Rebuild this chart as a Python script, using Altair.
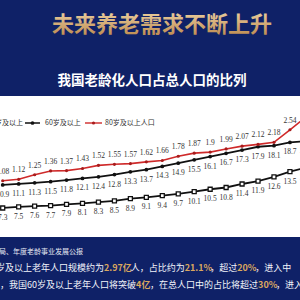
import altair as alt
import pandas as pd

# ---------------- data ----------------
years = list(range(2002, 2022))
pct_80 = [1.08, 1.12, 1.25, 1.36, 1.37, 1.43, 1.52, 1.55, 1.57, 1.62,
          1.66, 1.78, 1.87, 1.9, 1.99, 2.07, 2.12, 2.18, 2.54, 2.9]
pct_60 = [10.9, 11.1, 11.3, 11.5, 11.8, 12.1, 12.4, 12.8, 13.3, 13.7,
          14.3, 14.9, 15.5, 16.1, 16.7, 17.3, 17.9, 18.1, 18.7, 18.9]
pct_65 = [7.3, 7.5, 7.6, 7.7, 7.9, 8.1, 8.3, 8.5, 8.9, 9.1,
          9.4, 9.7, 10.1, 10.5, 10.8, 11.4, 11.9, 12.6, 13.5, 14.2]
series_names = ["65岁及以上", "60岁及以上", "80岁及以上人口"]

title_text = "未来养老需求不断上升"
subtitle_text = "我国老龄化人口占总人口的比列"
source_text = "局、年度老龄事业发展公报"
line1 = [("岁及以上老年人口规模约为", False), ("2.97亿", True), ("人，占比约为", False),
         ("21.1%", True), ("，超过", False), ("20%", True), ("，进入中", False)]
line2 = [("，我国60岁及以上老年人口将突破", False), ("4亿", True), ("，在总人口中的占比将超过", False),
         ("30%", True), ("，进入", False)]

df = pd.DataFrame({"year": years, "v80": pct_80, "v60": pct_60, "v65": pct_65})
df["l80"] = [str(v) for v in pct_80]
df["l60"] = [str(v) for v in pct_60]
df["l65"] = [str(v) for v in pct_65]

CJK = "Noto Sans CJK SC"
SERIF = "Liberation Serif"
NAVY = "#0f2167"
GOLD = "#dba75e"
one = pd.DataFrame({"a": [0]})

# ---------------- scales ----------------
xscale = alt.Scale(domain=[2001.83, 2020.63], nice=False, zero=False)
xaxis = alt.Axis(values=years, format="d", offset=-80, domainColor="#8a8a8a", domainWidth=1,
                 ticks=False, grid=False, labelFont=SERIF, labelFontSize=7.5, labelColor="#222",
                 labelPadding=3, labelOverlap=False, labelFlush=False, labelBound=False,
                 labelOffset=2, title=None)
X = alt.X("year:Q", scale=xscale, axis=xaxis)

s80 = alt.Scale(domain=[-2.338, 6.258], nice=False, zero=False)
s60 = alt.Scale(domain=[-10.17, 44.78], nice=False, zero=False)
s65 = alt.Scale(domain=[-8.43, 42.85], nice=False, zero=False)

base = alt.Chart(df)


def series(field, label, scale, color, point_mark, dy):
    y = alt.Y(f"{field}:Q", scale=scale, axis=None)
    ln = base.mark_line(color=color, strokeWidth=1.6 if color != "#111" else 1.8).encode(x=X, y=y)
    pt = base.mark_point(**point_mark).encode(x=X, y=y)
    tx = base.mark_text(dy=dy, font=SERIF, fontSize=7.5, color="#333").encode(x=X, y=y, text=f"{label}:N")
    return [ln, pt, tx]


def txt(text, x, y, size, color, weight="normal", align="left", font=CJK):
    return alt.Chart(one).mark_text(text=text, align=align, baseline="middle", fontSize=size,
                                    font=font, fontWeight=weight, color=color).encode(
        x=alt.value(x), y=alt.value(y))


def em(s):
    w = 0.0
    for ch in s:
        if ch.isdigit():
            w += 0.56
        elif ch == ".":
            w += 0.28
        elif ch == "%":
            w += 0.88
        else:
            w += 1.0
    return w


def rich_line(parts, x0, y, fs):
    out = []
    x = x0
    for s, hi in parts:
        out.append(txt(s, x, y, fs, GOLD if hi else "#f2f4fa", "bold" if hi else "normal"))
        x += em(s) * fs
    return out


layers = []
# white chart panel
layers.append(alt.Chart(one).mark_rect(color="#ffffff").encode(
    x=alt.value(0), x2=alt.value(300), y=alt.value(96), y2=alt.value(237)))
# title
gold_grad = alt.LinearGradient(gradient="linear",
                               stops=[alt.GradientStop(color="#f4ddb0", offset=0),
                                      alt.GradientStop(color="#b98549", offset=1)],
                               x1=0, x2=0, y1=0, y2=1)
layers.append(alt.Chart(one).mark_text(text=title_text, align="center", baseline="middle",
                                       fontSize=22, font=CJK, fontWeight="bold", color=gold_grad).encode(
    x=alt.value(162), y=alt.value(25)))
layers.append(txt(subtitle_text, 152, 81, 13.5, "#ffffff", "bold", "center"))

# legend
layers.append(txt(series_names[0], 23, 123, 7, "#333", align="right"))
layers.append(alt.Chart(one).mark_rule(color="#111", strokeWidth=1.5).encode(
    x=alt.value(25), x2=alt.value(40), y=alt.value(123)))
layers.append(alt.Chart(one).mark_point(filled=True, color="#111", size=14, opacity=1).encode(
    x=alt.value(32.5), y=alt.value(123)))
layers.append(txt(series_names[1], 45, 123, 7, "#333"))
layers.append(alt.Chart(one).mark_rule(color="#cf2a2a", strokeWidth=1.4).encode(
    x=alt.value(85), x2=alt.value(102), y=alt.value(123)))
layers.append(alt.Chart(one).mark_point(filled=True, color="#a81c1c", size=10, opacity=1).encode(
    x=alt.value(93.5), y=alt.value(123)))
layers.append(txt(series_names[2], 105, 123, 7, "#333"))

# data series
layers += series("v65", "l65", s65, "#111",
                 dict(shape="square", filled=False, color="#111", fill="#ffffff", fillOpacity=1,
                      size=16, strokeWidth=1.3, opacity=1), 10)
layers += series("v60", "l60", s60, "#111",
                 dict(filled=True, color="#111", size=14, opacity=1), 10)
layers += series("v80", "l80", s80, "#cf2a2a",
                 dict(filled=True, color="#a81c1c", size=10, opacity=1), -9)

# source + bottom text
layers.append(txt(source_text, -1, 252, 7, "#e6e9f2"))
layers += rich_line(line1, -4, 268, 9)
layers += rich_line(line2, 0, 285, 9)

chart = alt.layer(*layers).resolve_scale(y="independent").properties(
    width=300, height=300, padding=0, autosize="none", background=NAVY
).configure_view(stroke=None)

chart.save("out.html", embed_options={"renderer": "svg", "actions": False})
